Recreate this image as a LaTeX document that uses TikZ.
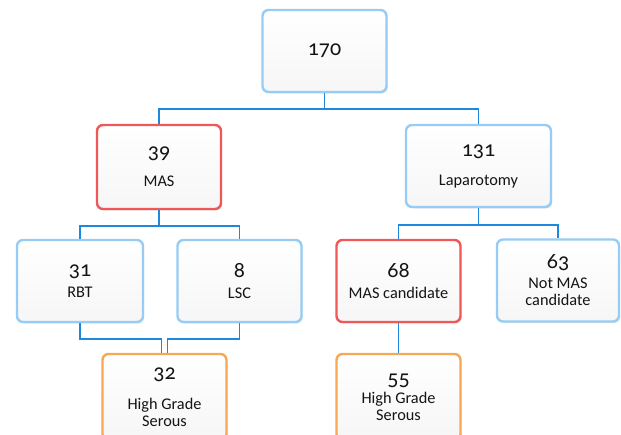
\documentclass[tikz,border=0pt]{standalone}
\usepackage{fontspec}
\setmainfont[Numbers=OldStyle]{Carlito}
\usetikzlibrary{positioning,shadows,calc}
\definecolor{linkblue}{RGB}{30,136,222}
\definecolor{edgeblue}{RGB}{150,204,245}
\definecolor{edgered}{RGB}{240,88,88}
\definecolor{edgeorange}{RGB}{246,168,82}
\definecolor{txt}{RGB}{20,20,20}
\newcommand{\numfont}{\fontsize{22}{17}\selectfont}
\tikzset{
  card/.style={rounded corners=6pt, line width=2.4pt, top color=white, bottom color=gray!7,
    minimum width=124pt, minimum height=82pt, align=center, text=txt, inner sep=0pt,
    font=\fontsize{16.3}{17}\selectfont,
    drop shadow={opacity=0.18, shadow xshift=1.2pt, shadow yshift=-1.5pt}},
  bluecard/.style={card, draw=edgeblue},
  redcard/.style={card, draw=edgered},
  orangecard/.style={card, draw=edgeorange, minimum height=86pt},
  link/.style={draw=linkblue, line width=1.6pt},
}
\begin{document}
\begin{tikzpicture}[x=1pt,y=-1pt]
	\useasboundingbox (0,0) rectangle (621,434);
	\clip (0,0) rectangle (621,434);
	% top
	\node[bluecard] (all) at (324.5,51) {{\numfont 170}};
	% second row
	\node[redcard, minimum height=84pt] (mas) at (159,167) {{\numfont 39}\\[11pt]MAS};
	\node[bluecard, minimum width=145pt] (lap) at (478.5,166) {{\numfont 131}\\[12pt]Laparotomy};
	% third row
	\node[bluecard, minimum width=126pt] (rbt) at (80,281) {{\numfont 31}\\[4pt]RBT};
	\node[bluecard] (lsc) at (239.5,281) {{\numfont 8}\\[4pt]LSC};
	\node[redcard] (cand) at (398.5,281) {{\numfont 68}\\[4pt]MAS candidate};
	\node[bluecard, minimum width=122pt] (notcand) at (558,280.5) {{\numfont 63}\\[3pt]Not MAS\\candidate};
	% bottom
	\node[orangecard] (hgsa) at (164.5,397) {{\numfont 32}\\[13pt]High Grade\\Serous};
	\node[orangecard] (hgsb) at (398.5,397) {{\numfont 55}\\[1pt]High Grade\\Serous};
	% links
	\draw[link] (all.south) -- ++(0,16) -| (mas.north);
	\draw[link] (all.south) -- ++(0,16) -| (lap.north);
	\draw[link] (mas.south) -- ++(0,16) -| (rbt.north);
	\draw[link] (mas.south) -- ++(0,16) -| (lsc.north);
	\draw[link] (lap.south) -- ++(0,17) -| (cand.north);
	\draw[link] (lap.south) -- ++(0,17) -| (notcand.north);
	\draw[link] (rbt.south) -- ++(0,16) -| ([xshift=-3pt]hgsa.north);
	\draw[link] (lsc.south) -- ++(0,16) -| ([xshift=3pt]hgsa.north);
	\draw[link] (cand.south) -- (hgsb.north);
\end{tikzpicture}
\end{document}
